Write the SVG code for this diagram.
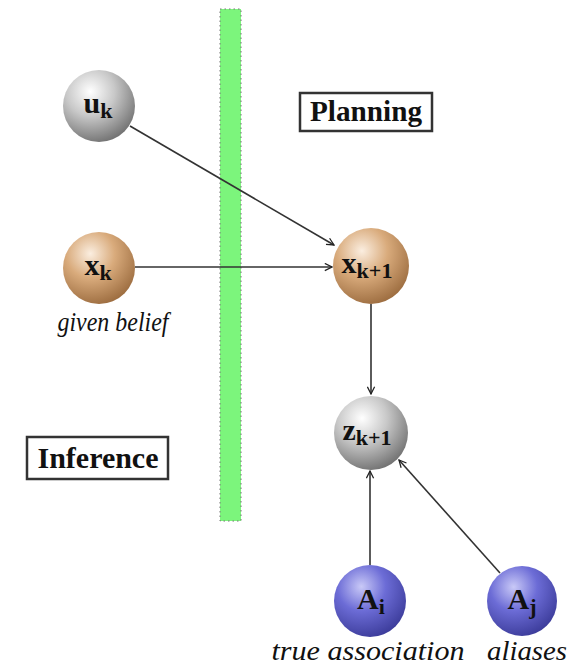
<svg xmlns="http://www.w3.org/2000/svg" width="570" height="666" viewBox="0 0 570 666">
<defs>
<radialGradient id="gGray" cx="0.38" cy="0.3" r="0.75">
<stop offset="0" stop-color="#ffffff"/>
<stop offset="0.45" stop-color="#c8c8c8"/>
<stop offset="1" stop-color="#6e6e6e"/>
</radialGradient>
<radialGradient id="gTan" cx="0.38" cy="0.3" r="0.75">
<stop offset="0" stop-color="#fbeee0"/>
<stop offset="0.45" stop-color="#d9ab7c"/>
<stop offset="1" stop-color="#9a6a3d"/>
</radialGradient>
<radialGradient id="gBlue" cx="0.38" cy="0.3" r="0.75">
<stop offset="0" stop-color="#c9c9f7"/>
<stop offset="0.45" stop-color="#6c6cd6"/>
<stop offset="1" stop-color="#3a3a98"/>
</radialGradient>
<marker id="arr" viewBox="0 0 10 10" refX="9" refY="5" markerWidth="9" markerHeight="9" markerUnits="userSpaceOnUse" orient="auto">
<path d="M1,1 L9,5 L1,9" fill="none" stroke="#222" stroke-width="1.4"/>
</marker>
</defs>
<style>
.lbl{font-family:"Liberation Serif","DejaVu Serif",serif;font-weight:bold;fill:#111}
.sub{font-size:22px}
.cap{font-family:"Liberation Serif","DejaVu Serif",serif;font-style:italic;font-size:28px;fill:#111}
.box{fill:#fff;stroke:#333;stroke-width:2.5}
.edge{stroke:#333;stroke-width:1.6;fill:none;marker-end:url(#arr)}
</style>
<rect x="220" y="9" width="21" height="512" fill="#7cf57c" stroke="#777" stroke-width="1" stroke-dasharray="1.5,3"/>
<g id="connectors">
<line class="edge" x1="130" y1="126" x2="334" y2="245"/>
<line class="edge" x1="135" y1="267" x2="332" y2="267"/>
<line class="edge" x1="371" y1="304" x2="371" y2="394"/>
<line class="edge" x1="370" y1="565" x2="370" y2="471"/>
<line class="edge" x1="500" y1="573" x2="399" y2="460"/>
</g>
<g id="planning"><rect class="box" x="300" y="93" width="132" height="38"/><text class="lbl" x="366" y="121" font-size="29" text-anchor="middle" textLength="112" lengthAdjust="spacingAndGlyphs">Planning</text></g>
<g id="inference"><rect class="box" x="27" y="437" width="141" height="42"/><text class="lbl" x="98" y="468" font-size="29" text-anchor="middle" textLength="121" lengthAdjust="spacingAndGlyphs">Inference</text></g>
<g id="uk"><circle cx="99" cy="106" r="36" fill="url(#gGray)"/><text class="lbl" x="98" y="113" font-size="30" text-anchor="middle">u<tspan class="sub" dy="5">k</tspan></text></g>
<g id="xk"><circle cx="99" cy="268" r="36" fill="url(#gTan)"/><text class="lbl" x="98" y="275" font-size="30" text-anchor="middle">x<tspan class="sub" dy="5">k</tspan></text></g>
<text class="cap" x="113" y="331" text-anchor="middle" textLength="111" lengthAdjust="spacingAndGlyphs">given belief</text>
<g id="xk1"><circle cx="371" cy="266" r="38" fill="url(#gTan)"/><text class="lbl" x="367" y="273" font-size="30" text-anchor="middle">x<tspan class="sub" dy="5">k+1</tspan></text></g>
<g id="zk1"><circle cx="371" cy="433" r="37" fill="url(#gGray)"/><text class="lbl" x="367" y="440" font-size="30" text-anchor="middle">z<tspan class="sub" dy="5">k+1</tspan></text></g>
<g id="Ai"><circle cx="370" cy="601" r="36" fill="url(#gBlue)"/><text class="lbl" x="371" y="609" font-size="30" text-anchor="middle">A<tspan class="sub" dy="5">i</tspan></text></g>
<g id="Aj"><circle cx="522" cy="601" r="35" fill="url(#gBlue)"/><text class="lbl" x="522" y="609" font-size="30" text-anchor="middle">A<tspan class="sub" dy="5">j</tspan></text></g>
<text class="cap" x="368" y="660" text-anchor="middle" textLength="193" lengthAdjust="spacingAndGlyphs">true association</text>
<text class="cap" x="527" y="660" text-anchor="middle" textLength="80" lengthAdjust="spacingAndGlyphs">aliases</text>
</svg>
